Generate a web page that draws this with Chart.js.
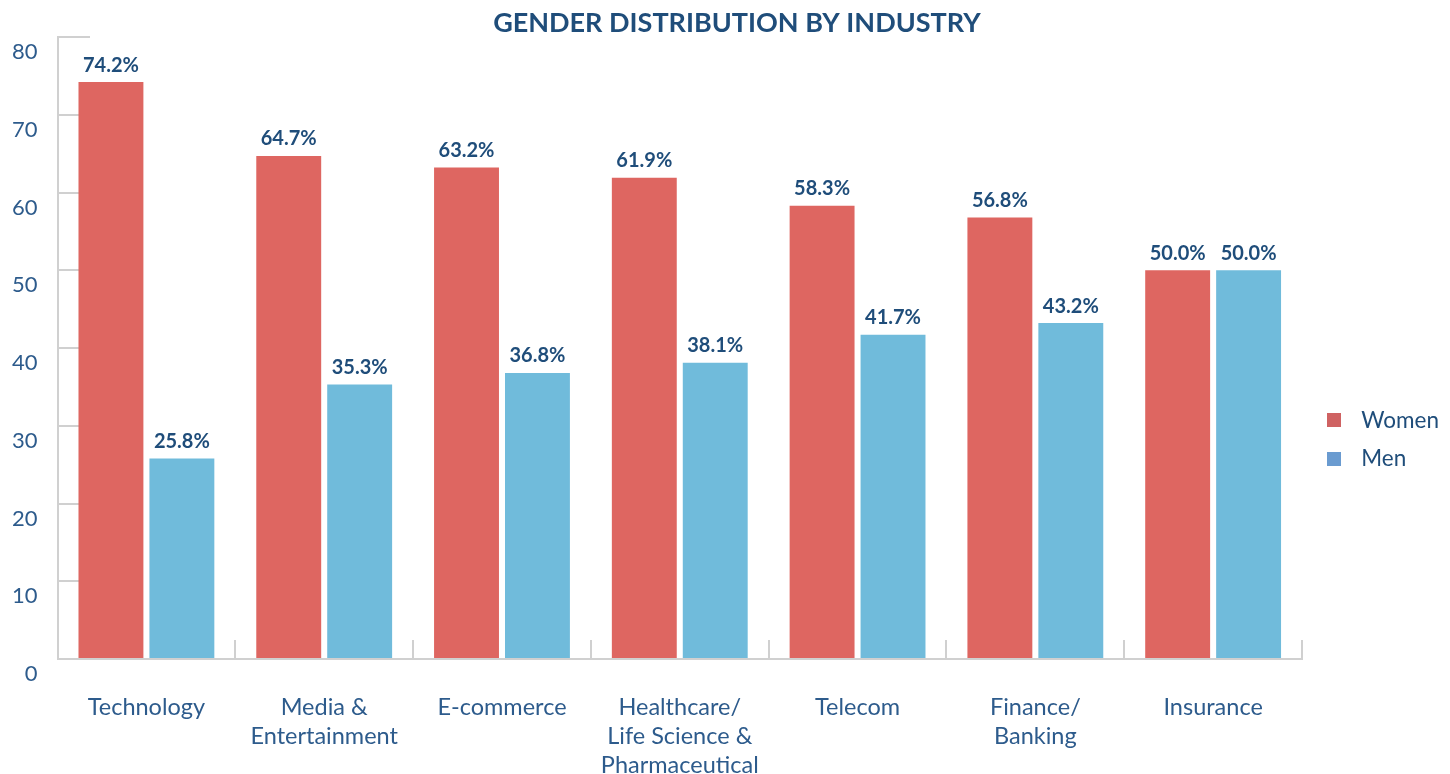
<!DOCTYPE html>
<html>
<head>
<meta charset="utf-8">
<script src="https://cdn.jsdelivr.net/npm/chart.js@4.4.1/dist/chart.umd.min.js"></script>
<style>
  html, body { margin: 0; padding: 0; background: #fff; }
  #wrap { width: 1450px; height: 774px; position: relative; }
</style>
</head>
<body>
<div id="wrap"><canvas id="chart"></canvas></div>
<script>
var categories = [
  'Technology',
  ['Media &', 'Entertainment'],
  'E-commerce',
  ['Healthcare/', 'Life Science &', 'Pharmaceutical'],
  'Telecom',
  ['Finance/', 'Banking'],
  'Insurance'
];
var womenValues = [74.2, 64.7, 63.2, 61.9, 58.3, 56.8, 50.0];
var menValues = [25.8, 35.3, 36.8, 38.1, 41.7, 43.2, 50.0];
var yTicks = [0, 10, 20, 30, 40, 50, 60, 70, 80];

var WOMEN_BAR = '#DE6661';
var MEN_BAR = '#70BBDB';
var WOMEN_KEY = '#CF6262';
var MEN_KEY = '#6A9BD0';
var NAVY = '#1F4D7A';
var AXIS_TEXT = '#2D5B8C';
var AXIS_LINE = '#D0D0D0';
var FONT = 'Lato';

// 14px square legend swatch, drawn as an image so the box/text spacing can be wider
function swatch(color) {
  var c = document.createElement('canvas');
  c.width = 14;
  c.height = 14;
  var g = c.getContext('2d');
  g.fillStyle = color;
  g.fillRect(0, 0, 14, 14);
  return c;
}

// value labels above each bar
var barLabels = {
  id: 'barLabels',
  afterDatasetsDraw: function(chart) {
    var ctx = chart.ctx;
    ctx.save();
    ctx.font = 'bold 20px ' + FONT;
    ctx.fillStyle = NAVY;
    ctx.textAlign = 'center';
    ctx.textBaseline = 'middle';
    chart.data.datasets.forEach(function(ds, i) {
      chart.getDatasetMeta(i).data.forEach(function(bar, j) {
        ctx.fillText(ds.data[j].toFixed(1) + '%', bar.x, bar.y - 17);
      });
    });
    ctx.restore();
  }
};

new Chart(document.getElementById('chart').getContext('2d'), {
  type: 'bar',
  data: {
    labels: categories,
    datasets: [
      { label: 'Women', data: womenValues, backgroundColor: WOMEN_BAR, legendColor: WOMEN_KEY },
      { label: 'Men', data: menValues, backgroundColor: MEN_BAR, legendColor: MEN_KEY }
    ]
  },
  plugins: [barLabels],
  options: {
    responsive: true,
    maintainAspectRatio: false,
    animation: false,
    categoryPercentage: 0.798,
    barPercentage: 0.915,
    layout: { padding: { left: -8, right: 1, top: 0, bottom: -40 } },
    plugins: {
      title: {
        display: true,
        text: '\u00a0\u00a0\u00a0\u00a0\u00a0GENDER DISTRIBUTION BY INDUSTRY',
        color: NAVY,
        font: { family: FONT, size: 27, weight: 'bold', lineHeight: 1 },
        padding: { top: 10, bottom: 0 }
      },
      legend: {
        position: 'right',
        title: { display: true, text: '', font: { size: 10 }, padding: { top: 0, bottom: 53 } },
        labels: {
          color: NAVY,
          font: { family: FONT, size: 22.5 },
          usePointStyle: true,
          pointStyleWidth: 32,
          boxHeight: 14,
          padding: 16,
          generateLabels: function(chart) {
            return chart.data.datasets.map(function(ds, i) {
              return { text: ds.label, fillStyle: ds.legendColor, strokeStyle: ds.legendColor, lineWidth: 0, pointStyle: swatch(ds.legendColor), datasetIndex: i, fontColor: NAVY };
            });
          }
        }
      },
      tooltip: { enabled: false }
    },
    scales: {
      x: {
        grid: {
          offset: true,
          drawTicks: false,
          color: AXIS_LINE,
          lineWidth: 2
        },
        border: {
          display: true,
          color: AXIS_LINE,
          width: 2,
          // only the lowest 19px of each category divider is drawn
          dash: function(c) {
            var h = c.chart.chartArea.bottom - c.chart.chartArea.top;
            return [0, h - 19, 19, 5000];
          }
        },
        ticks: {
          color: AXIS_TEXT,
          font: { family: FONT, size: 23.5, lineHeight: 1.234 },
          padding: 34,
          maxRotation: 0,
          autoSkip: false
        }
      },
      y: {
        min: 0,
        max: 80,
        afterBuildTicks: function(scale) {
          scale.ticks = yTicks.map(function(v) { return { value: v }; });
        },
        grid: {
          drawTicks: false,
          color: function(c) { return c.tick && c.tick.value === 0 ? 'rgba(0,0,0,0)' : AXIS_LINE; },
          lineWidth: 2
        },
        border: {
          display: true,
          color: AXIS_LINE,
          width: 2,
          dash: [31, 5000]
        },
        ticks: {
          color: AXIS_TEXT,
          font: { family: FONT, size: 22 },
          padding: 20,
          labelOffset: 15
        }
      }
    }
  }
});
</script>
</body>
</html>
